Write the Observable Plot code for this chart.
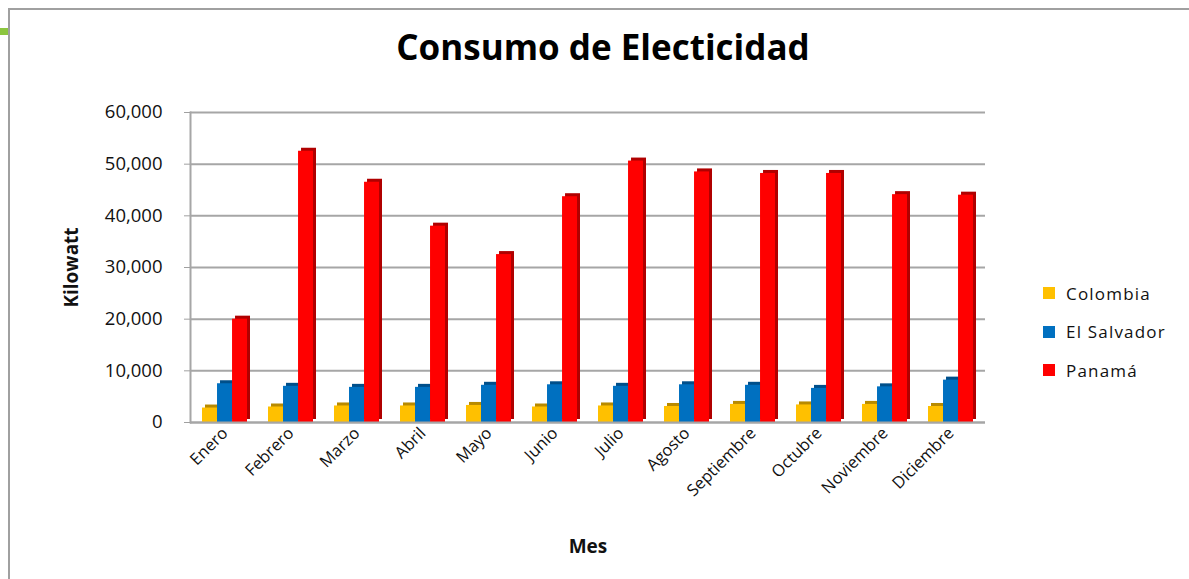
<!DOCTYPE html>
<html>
<head>
<meta charset="utf-8">
<script src="https://cdn.jsdelivr.net/npm/d3@7"></script>
<script src="https://cdn.jsdelivr.net/npm/@observablehq/plot@0.6"></script>
<style>
  html, body { margin: 0; padding: 0; background: #fff; }
  #wrap { position: relative; width: 1189px; height: 579px; overflow: hidden; font-family: "Open Sans", sans-serif; }
  #frame { position: absolute; left: 8px; top: 8px; width: 1200px; height: 600px; border-left: 2px solid #a0a0a0; border-top: 2px solid #a0a0a0; }
  #mark { position: absolute; left: 0; top: 28px; width: 8px; height: 7px; background: #8cc63f; }
  #title { position: absolute; left: 0; width: 1206px; top: 23px; text-align: center; font-size: 35px; font-weight: bold; color: #000; line-height: 48px; }
  #chart { position: absolute; left: 0; top: 80px; }
  #legend { position: absolute; left: 1043px; top: 274px; font-size: 17px; color: #111; letter-spacing: 1.2px; }
  #legend div { height: 38.5px; display: flex; align-items: center; }
  #legend span.sw { display: inline-block; width: 12px; height: 12px; margin-right: 11px; }
  #chart svg [aria-label="y-axis label"] text, #chart svg [aria-label="x-axis label"] text { font-weight: bold; font-size: 19px; }
</style>
</head>
<body>
<div id="wrap">
  <div id="frame"></div>
  <div id="mark"></div>
  <div id="title">Consumo de Electicidad</div>
  <div id="chart"></div>
  <div id="legend"></div>
</div>
<script>
const meses = ["Enero","Febrero","Marzo","Abril","Mayo","Junio","Julio","Agosto","Septiembre","Octubre","Noviembre","Diciembre"];
const paises = ["Colombia","El Salvador","Panamá"];
const colombia   = [2800, 3000, 3200, 3200, 3300, 3000, 3200, 3100, 3500, 3400, 3500, 3100];
const elSalvador = [7500, 7000, 6800, 6800, 7200, 7300, 7000, 7300, 7200, 6600, 6900, 8200];
const panama     = [20000, 52500, 46500, 38000, 32500, 43700, 50600, 48500, 48200, 48200, 44100, 44000];
const yTicks = [0, 10000, 20000, 30000, 40000, 50000, 60000];
const colores = ["#FFC000", "#0070C0", "#FF0000"];
const lados = ["#B88A00", "#004F8A", "#B00000"];

const series = [colombia, elSalvador, panama];
const data = [];
paises.forEach((p, i) => meses.forEach((m, j) => data.push({mes: m, pais: p, valor: series[i][j]})));

const width = 1189, height = 499;
const marginLeft = 190, marginRight = 204, marginTop = 32, marginBottom = 157;
const padIn = 0.32, padOut = 0.16;
const step = (width - marginLeft - marginRight) / (meses.length - padIn + 2 * padOut);
const bw = step * (1 - padIn);
const sub = bw / 3;

const marks = [Plot.ruleY(yTicks, {stroke: "#a6a6a6", strokeWidth: 2})];
paises.forEach((p, i) => {
  const d = data.filter(r => r.pais === p);
  const insetLeft = i * sub, insetRight = (2 - i) * sub;
  marks.push(Plot.barY(d, {x: "mes", y: "valor", fill: lados[i], insetLeft, insetRight, dx: 3, dy: -3}));
  marks.push(Plot.barY(d, {x: "mes", y: "valor", fill: colores[i], insetLeft, insetRight}));
});
marks.push(Plot.ruleY([0], {stroke: "#a6a6a6", strokeWidth: 2}));

const chart = Plot.plot({
  width, height, marginLeft, marginRight, marginTop, marginBottom,
  style: {fontFamily: "'Open Sans', sans-serif", fontSize: "16px", color: "#111", background: "transparent"},
  x: {domain: meses, paddingInner: padIn, paddingOuter: padOut},
  y: {domain: [0, 60000]},
  marks: [
    ...marks,
    Plot.frame({anchor: "left", stroke: "#a6a6a6", strokeWidth: 2}),
    Plot.axisX({label: "Mes", labelAnchor: "center", labelOffset: 130, labelArrow: false, tickRotate: -45, tickSize: 0, tickPadding: 8, fontSize: 16.5}),
    Plot.axisY({ticks: yTicks, tickFormat: d3.format(","), label: "Kilowatt", labelArrow: false, labelAnchor: "center", labelOffset: 126, tickSize: 6, tickPadding: 22, stroke: "#a0a0a0", fontSize: 18.5})
  ]
});
document.getElementById("chart").appendChild(chart);

const leg = document.getElementById("legend");
paises.forEach((p, i) => {
  const row = document.createElement("div");
  row.innerHTML = `<span class="sw" style="background:${colores[i]}"></span>${p}`;
  leg.appendChild(row);
});
</script>
</body>
</html>
